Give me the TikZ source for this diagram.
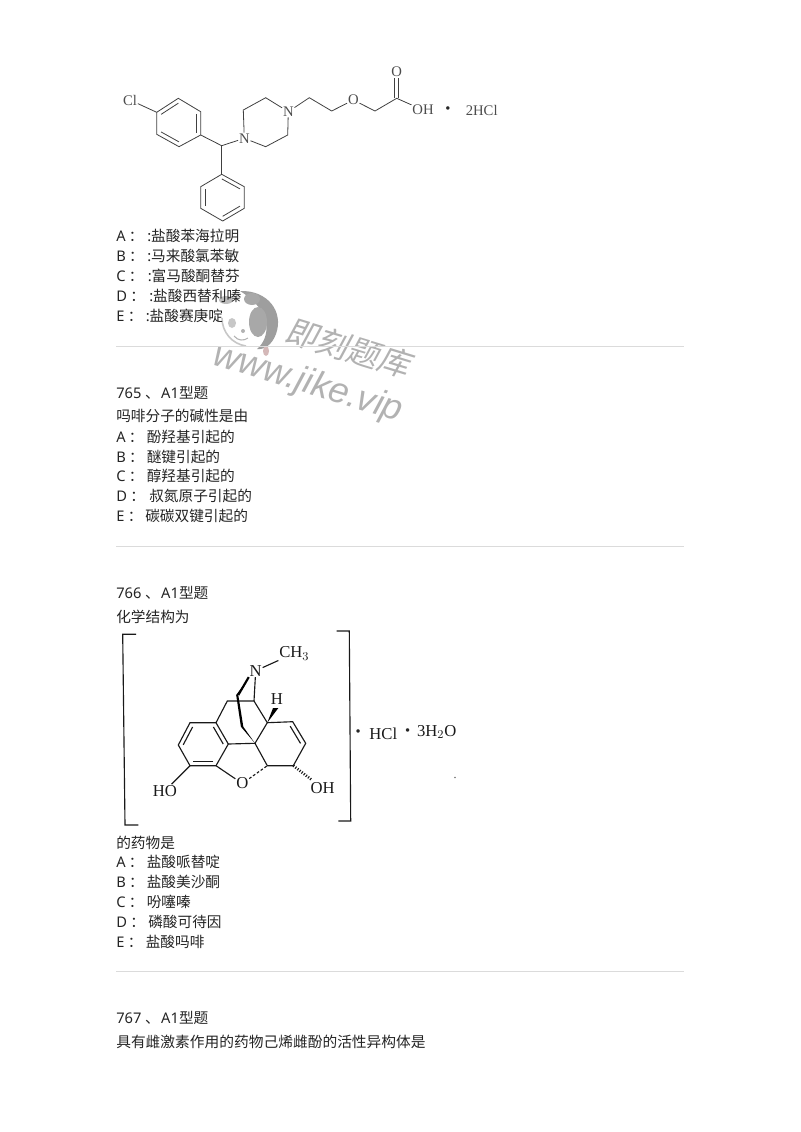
\documentclass[tikz,border=0pt]{standalone}
\usepackage{fontspec}
\setmainfont{Noto Sans}
\newfontfamily\cjk{Noto Sans CJK SC}
\newfontfamily\cjkslant[FakeSlant=0.2]{Noto Sans CJK SC}
\newfontfamily\chem{Liberation Serif}
\newfontfamily\wmark{Liberation Sans}
\usetikzlibrary{calc}
\definecolor{rulegrey}{gray}{0.86}
\definecolor{inkgrey}{gray}{0.14}
\tikzset{
  txt/.style={anchor=west,inner sep=0pt,yshift=-0.6pt,text=inkgrey,font=\fontsize{11}{13}\selectfont},
  rulefine/.style={draw=rulegrey,line width=0.6pt},
  bond/.style={draw=black!75,line width=0.6pt},
  bondb/.style={draw=black!90,line width=0.85pt},
  atoma/.style={inner sep=0.5pt,text=black!70,font=\chem\fontsize{11}{13}\selectfont},
  atomb/.style={inner sep=0.5pt,text=black!90,font=\chem\fontsize{12.5}{14}\selectfont},
  dota/.style={inner sep=0pt,text=black!85,font=\chem\bfseries\fontsize{16}{16}\selectfont},
  wm/.style={text=black!30,inner sep=0pt,rotate=-17}
}
\newcommand{\innerbond}[4][bond]{\draw[#1] ($(#2)!.2!(#4)$) -- ($(#3)!.2!(#4)$);}
\newcommand{\optlabel}[1]{#1\hspace{2.5pt}{\cjk：}}
\begin{document}
\begin{tikzpicture}[x=0.75pt,y=-0.75pt]
  \useasboundingbox (0,0) rectangle (800,1132);

  % watermark
  \fill[black!38] (240,291) .. controls (268,290) and (284,312) .. (276,334)
     .. controls (272,345) and (264,350) .. (257,349)
     .. controls (270,338) and (274,312) .. (240,291);
  \fill[black!34] (252,299) ellipse (8 and 6);
  \fill[black!34] (258,322) ellipse (9 and 15);
  \fill[black!22] (232,323) ellipse (4 and 5);
  \fill[black!26] (226,300) ellipse (7 and 4);
  \fill[black!30] (243,331) circle (2);
  \draw[black!22,line width=1.2pt] (222,318) .. controls (222,332) and (232,344) .. (246,346);
  \draw[black!30,line width=0.8pt] (234,336) .. controls (238,341) and (244,341) .. (248,338);
  \fill[red!40!black!28] (266,351) ellipse (3 and 5);
  \node[wm] (wmcn) at (348,348) {\cjkslant\fontsize{24}{28}\selectfont 即刻题库};
  \node[wm] (wmurl) at (308,384) {\wmark\itshape\fontsize{27}{30}\selectfont www.jike.vip};

  % first molecule
  \foreach \n/\x/\y in {p1/156.7/112.3,p2/178.3/98.3,p3/200.7/111.7,p4/200.7/135,p5/179/146.7,p6/156.7/134.3,
      q1/221.7/174.3,q2/244.3/186.7,q3/244.3/208.3,q4/222.7/221,q5/200.7/208.3,q6/200.7/186.7,
      ch/221.7/145.7,pz2/243.3/110,pz3/265.7/97.7,pz5/287.7/135,pz6/265.7/146.7,
      c1/309.3/97.7,c2/331.7/111,c3/375/111,c4/396.7/98.3,pc/178.8/122.5,qc/222.5/197.5}
    \coordinate (\n) at (\x,\y);
  \node[atoma] (cl) at (130,100) {Cl};
  \node[atoma] (n1) at (244.3,138.3) {N};
  \node[atoma] (n2) at (288.3,111.7) {N};
  \node[atoma] (o1) at (353.3,100) {O};
  \node[atoma] (o2) at (396.7,72) {O};
  \node[atoma] (oh1) at (423,110) {OH};
  \node[dota] (dot1) at (448,111) {·};
  \node[atoma] (hcl1) at (481.7,110.5) {2HCl};
  \draw[bond] (p1)--(p2)--(p3)--(p4)--(p5)--(p6)--cycle;
  \draw[bond] (q1)--(q2)--(q3)--(q4)--(q5)--(q6)--cycle;
  \innerbond{p1}{p2}{pc} \innerbond{p3}{p4}{pc} \innerbond{p5}{p6}{pc}
  \innerbond{q1}{q2}{qc} \innerbond{q3}{q4}{qc} \innerbond{q5}{q6}{qc}
  \draw[bond] (cl)--(p1);
  \draw[bond] (p4)--(ch)--(n1);
  \draw[bond] (ch)--(q1);
  \draw[bond] (n1)--(pz2)--(pz3)--(n2)--(pz5)--(pz6)--(n1);
  \draw[bond] (n2)--(c1)--(c2)--(o1)--(c3)--(c4)--(oh1);
  \draw[bond] ([xshift=-1.5]c4) -- ([xshift=-1.5]o2.south);
  \draw[bond] ([xshift=1.5]c4) -- ([xshift=1.5]o2.south);

  % text, first block
  \foreach \n/\y/\l/\x/\t in {oa/235/A/147/盐酸苯海拉明,ob/255/B/147/马来酸氯苯敏,oc/275/C/147.5/富马酸酮替芬,
      od/295/D/149/盐酸西替利嗪,oe/315/E/145.5/盐酸赛庚啶} {
    \node[txt] (\n l) at (116,\y) {\optlabel{\l}};
    \node[txt] (\n t) at (\x,\y) {:{\cjk\t}};
  }
  \draw[rulefine] (116,346) coordinate (r1a) -- (684,346) coordinate (r1b);

  \node[txt] (h765) at (116,392) {765 {\cjk、}\hspace{1pt}A1{\cjk 型题}};
  \node[txt] (q765) at (116,415) {\cjk 吗啡分子的碱性是由};
  \foreach \n/\y/\l/\x/\t in {pa/436/A/146.5/酚羟基引起的,pb/456/B/146.5/醚键引起的,pc/475/C/146.5/醇羟基引起的,
      pd/495/D/149/叔氮原子引起的,pe/515/E/145/碳碳双键引起的} {
    \node[txt] (\n l) at (116,\y) {\optlabel{\l}};
    \node[txt] (\n t) at (\x,\y) {\cjk\t};
  }
  \draw[rulefine] (116,546) coordinate (r2a) -- (684,546) coordinate (r2b);

  \node[txt] (h766) at (116,592) {766 {\cjk、}\hspace{1pt}A1{\cjk 型题}};
  \node[txt] (q766) at (116,616) {\cjk 化学结构为};

  % second molecule
  \draw[bondb] (136,634.3) -- (122.7,634.3) -- (125,825) -- (138.3,825);
  \draw[bondb] (336.7,631) -- (349.3,631) -- (350.7,821) -- (338.3,821);
  \foreach \n/\x/\y in {a1/190/722.7,a2/216/722.7,a3/228.3/744,a4/216/765.7,a5/190/765.7,a6/178.3/745,
      b1/227.3/701,b2/254/701,b3/267.3/722.7,b4/255/743.3,b5/267.3/765.7,b6/293.3/765.7,
      b7/305.7/743.3,b8/292.7/721.7,ac/203/744,bc/280/744,
      t1/247.3/680,t2/238.3/695,t3/243.3/726.7,w1/275.7/708}
    \coordinate (\n) at (\x,\y);
  \node[atomb] (nb) at (255.7,670.7) {N};
  \node[atomb] (me) at (294.3,653.3) {CH$_3$};
  \node[atomb] (hh) at (277,699) {H};
  \node[atomb] (ob) at (242.3,783.5) {O};
  \node[atomb] (ho) at (165,790.7) {HO};
  \node[atomb] (oh) at (322.7,788.3) {OH};
  \node[dota] (dotc) at (358.3,734) {·};
  \node[atomb] (hcl) at (383.3,734) {HCl};
  \node[dota] (dotd) at (407.7,733) {·};
  \node[atomb] (wat) at (436.7,732) {3H$_2$O};
  \draw[bondb] (a1)--(a2)--(a3)--(a4)--(a5)--(a6)--cycle;
  \innerbond[bondb]{a1}{a6}{ac} \innerbond[bondb]{a2}{a3}{ac} \innerbond[bondb]{a4}{a5}{ac}
  \draw[bondb] (a2)--(b1)--(b2)--(b3)--(b4)--(b5)--(b6)--(b7)--(b8)--(b3);
  \innerbond[bondb]{b7}{b8}{bc}
  \draw[bondb] (a3)--(b4);
  \draw[bondb] (a4)--(ob);
  \draw[bondb,dashed,dash pattern=on 2pt off 1.5pt] (ob)--(b5);
  \draw[bondb] (a5)--(ho);
  \draw[bondb] (nb)--(b2);
  \draw[bondb] (nb)--(me);
  \fill[black] (t1) -- (t2) -- (t3) -- (b4) -- ([xshift=-1.8]t3) -- ([xshift=-1.6]t2) -- cycle;
  \draw[line width=1.6pt,black] (nb.south west) -- (t2);
  \fill[black] (b3) -- ([xshift=-2]w1) -- ([xshift=2]w1) -- cycle;
  \draw[bondb,dash pattern=on 0.8pt off 1.2pt,line width=2pt,shorten >=2pt] (b6) -- (oh);
  \fill[black!55] (455,777.5) circle (0.8);

  % text, third block
  \node[txt] (q766b) at (116,842) {\cjk 的药物是};
  \foreach \n/\y/\l/\x/\t in {ra/861/A/146.5/盐酸哌替啶,rb/881/B/146.5/盐酸美沙酮,rc/901/C/146.5/吩噻嗪,
      rd/921/D/148/磷酸可待因,re/941/E/145.5/盐酸吗啡} {
    \node[txt] (\n l) at (116,\y) {\optlabel{\l}};
    \node[txt] (\n t) at (\x,\y) {\cjk\t};
  }
  \draw[rulefine] (116,971) coordinate (r3a) -- (684,971) coordinate (r3b);

  \node[txt] (h767) at (116,1017) {767 {\cjk、}\hspace{1pt}A1{\cjk 型题}};
  \node[txt] (q767) at (116,1041) {\fontsize{11.05}{13}\selectfont\cjk 具有雌激素作用的药物己烯雌酚的活性异构体是};
\end{tikzpicture}
\end{document}
